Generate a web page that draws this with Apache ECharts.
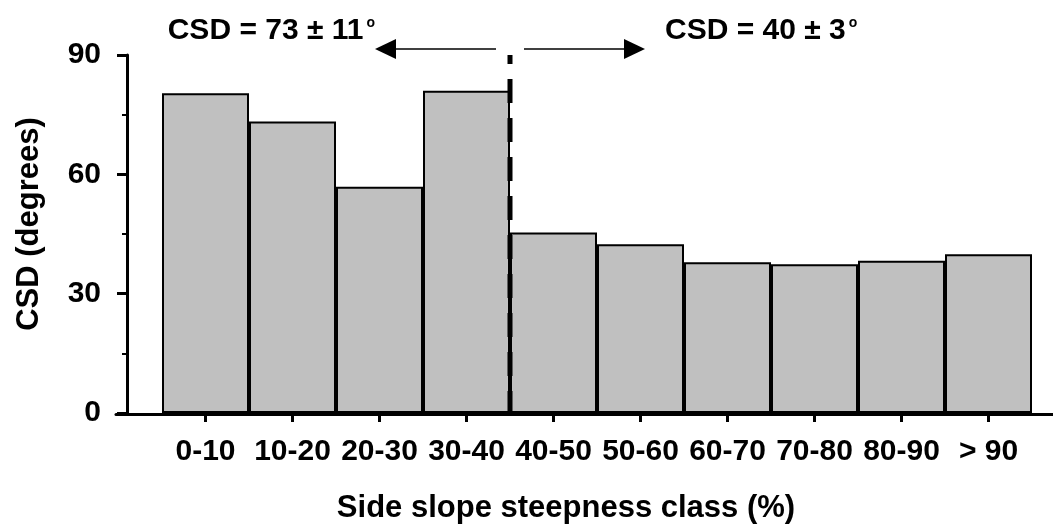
<!DOCTYPE html>
<html>
<head>
<meta charset="utf-8">
<script src="https://cdn.jsdelivr.net/npm/echarts@6/dist/echarts.min.js"></script>
<style>
  html, body { margin: 0; padding: 0; background: #fff; }
  #chart { width: 1053px; height: 529px; }
</style>
</head>
<body>
<div id="chart"></div>
<script>
// Side slope steepness classes (%) and the CSD measured in each (degrees)
const classes = ['0-10', '10-20', '20-30', '30-40', '40-50', '50-60', '60-70', '70-80', '80-90', '> 90'];
const csdValues = [80.4, 73.3, 56.9, 81.0, 45.4, 42.4, 37.9, 37.4, 38.3, 39.9];
const yTicks = [0, 30, 60, 90];
// first class of the steeper group
const splitIndex = 4;

const FONT = '"Liberation Sans", Arial, Helvetica, sans-serif';
const BLACK = '#000';

// mean ± sample standard deviation of a group of classes
function groupLabel(values) {
  const n = values.length;
  const mean = values.reduce((a, b) => a + b, 0) / n;
  const sd = Math.sqrt(values.reduce((a, v) => a + (v - mean) * (v - mean), 0) / (n - 1));
  return 'CSD = ' + Math.round(mean) + ' ± ' + Math.round(sd);
}
const leftLabel = groupLabel(csdValues.slice(0, splitIndex));
const rightLabel = groupLabel(csdValues.slice(splitIndex));

const textBase = { color: BLACK, fontFamily: FONT, fontWeight: 'bold' };

const chart = echarts.init(document.getElementById('chart'), null, { renderer: 'canvas' });

chart.setOption({
  animation: false,
  backgroundColor: '#fff',
  grid: [
    { left: 162, right: 21, top: 55, bottom: 115 },
    // carries the long baseline under the bars
    { left: 116, right: 0, top: 55, bottom: 115 }
  ],
  xAxis: [
    {
      type: 'category',
      gridIndex: 0,
      data: classes,
      axisLine: { show: false },
      axisTick: { show: true, alignWithLabel: true, length: 9, lineStyle: { width: 3, color: BLACK } },
      axisLabel: Object.assign({ margin: 24, fontSize: 30, interval: 0 }, textBase),
      splitLine: { show: false },
      name: 'Side slope steepness class (%)',
      nameLocation: 'middle',
      nameGap: 80,
      nameTextStyle: Object.assign({ fontSize: 31, padding: [0, 62, 0, 0] }, textBase)
    },
    {
      type: 'value',
      gridIndex: 1,
      min: 0,
      max: 1,
      axisLine: { show: true, lineStyle: { width: 3, color: BLACK } },
      axisTick: { show: false },
      axisLabel: { show: false },
      splitLine: { show: false }
    }
  ],
  yAxis: [
    {
      type: 'value',
      gridIndex: 0,
      min: yTicks[0],
      max: yTicks[yTicks.length - 1],
      interval: yTicks[1] - yTicks[0],
      offset: 35,
      axisLine: { show: true, lineStyle: { width: 3, color: BLACK } },
      axisTick: { show: true, length: 10, lineStyle: { width: 3, color: BLACK } },
      minorTick: { show: true, splitNumber: 2, length: 5, lineStyle: { width: 2, color: BLACK } },
      splitLine: { show: false },
      axisLabel: Object.assign({ margin: 26, fontSize: 30 }, textBase),
      name: 'CSD (degrees)',
      nameLocation: 'middle',
      nameRotate: 90,
      nameGap: 82,
      nameTextStyle: Object.assign({ fontSize: 31, padding: [0, 0, 0, 20] }, textBase)
    },
    { type: 'value', gridIndex: 1, show: false, min: 0, max: 1 }
  ],
  series: [
    {
      type: 'bar',
      xAxisIndex: 0,
      yAxisIndex: 0,
      data: csdValues,
      barCategoryGap: '0%',
      itemStyle: { color: '#c0c0c0', borderColor: BLACK, borderWidth: 2 }
    }
  ]
});

// Group divider, arrows and group summaries placed through the axes
const px = (name) => chart.convertToPixel({ xAxisIndex: 0 }, name);
const py = (v) => chart.convertToPixel({ yAxisIndex: 0 }, v);
const splitX = (px(classes[splitIndex - 1]) + px(classes[splitIndex])) / 2;
const yBottom = py(yTicks[0]);
const yTop = py(yTicks[yTicks.length - 1]);
const arrowY = yTop - 6;

const gap = 14, headBase = 114, tip = 135, headHalf = 10;

const richText = (label) => ({
  text: '{m|' + label + '}{s|o}',
  rich: {
    m: Object.assign({ fontSize: 30, lineHeight: 30 }, textBase, { fill: BLACK }),
    s: Object.assign({ fontSize: 14, lineHeight: 10, verticalAlign: 'top', padding: [0, 0, 0, 3] }, textBase, { fill: BLACK })
  }
});

chart.setOption({
  graphic: [
    {
      type: 'line', z: 50,
      shape: { x1: splitX, y1: yBottom + 2, x2: splitX, y2: yTop },
      style: { stroke: BLACK, lineWidth: 5, lineDash: [24, 15] }
    },
    {
      type: 'line', z: 50,
      shape: { x1: splitX - gap, y1: arrowY, x2: splitX - headBase, y2: arrowY },
      style: { stroke: BLACK, lineWidth: 1.5 }
    },
    {
      type: 'polygon', z: 50,
      shape: { points: [[splitX - tip, arrowY], [splitX - headBase, arrowY - headHalf], [splitX - headBase, arrowY + headHalf]] },
      style: { fill: BLACK }
    },
    {
      type: 'line', z: 50,
      shape: { x1: splitX + gap, y1: arrowY, x2: splitX + headBase, y2: arrowY },
      style: { stroke: BLACK, lineWidth: 1.5 }
    },
    {
      type: 'polygon', z: 50,
      shape: { points: [[splitX + tip, arrowY], [splitX + headBase, arrowY - headHalf], [splitX + headBase, arrowY + headHalf]] },
      style: { fill: BLACK }
    },
    {
      type: 'text', z: 50,
      x: splitX - tip, y: arrowY - 3,
      style: Object.assign(richText(leftLabel), { align: 'right', verticalAlign: 'bottom' })
    },
    {
      type: 'text', z: 50,
      x: splitX + tip + 20, y: arrowY - 3,
      style: Object.assign(richText(rightLabel), { align: 'left', verticalAlign: 'bottom' })
    }
  ]
});
</script>
</body>
</html>
